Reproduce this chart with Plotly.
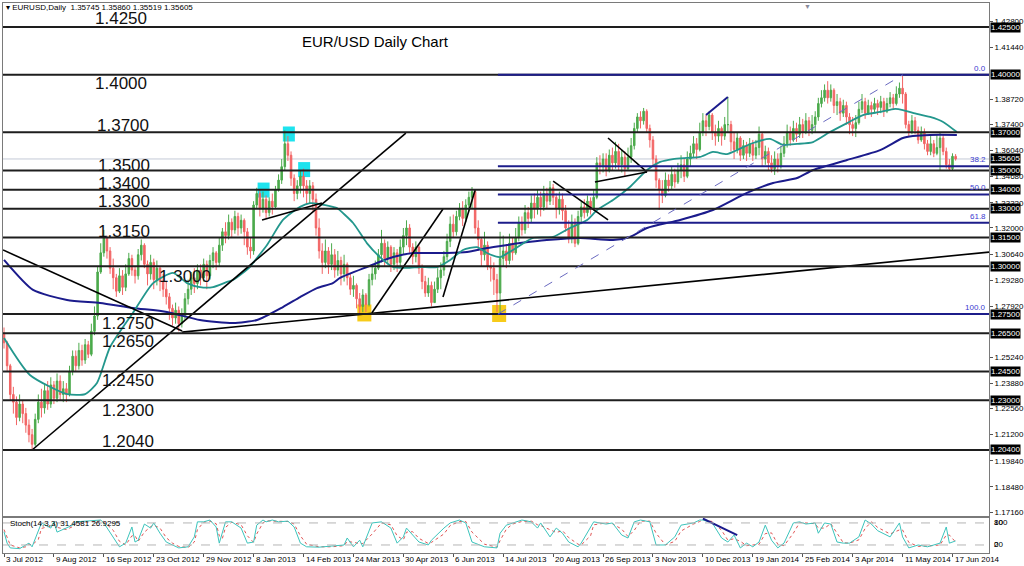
import plotly.graph_objects as go

# ---------------- data (prices in pips: 1.2650 -> 12650) ----------------
PIP = 10000.0
first_open = 12650
closes = [
    12600, 12480, 12330, 12290, 12210, 12280, 12230, 12170, 12120, 12070,
    12200, 12290, 12260, 12350, 12280, 12380, 12310, 12400, 12330, 12360,
    12330, 12450, 12530, 12480, 12560, 12510, 12590, 12540, 12660, 12740,
    12970, 13070, 13150, 13080, 12990, 12940, 12870, 12950, 12890, 12960,
    13040, 12980, 12950, 13060, 13110, 13010, 12960, 13020, 12930, 12990,
    12920, 12880, 12840, 12780, 12730, 12770, 12700, 12740, 12830, 12880,
    12940, 12910, 12980, 12940, 13010, 12950, 13030, 13070, 13020, 13110,
    13180, 13160, 13230, 13190, 13260, 13200, 13240, 13180, 13100, 13080,
    13320, 13380, 13300, 13350, 13280, 13340, 13310, 13400, 13450, 13520,
    13640, 13580, 13460, 13380, 13420, 13470, 13420, 13380, 13420, 13350,
    13200, 13080, 13020, 13080, 13010, 13060, 12980, 13030, 12960, 13010,
    12940, 12880, 12900, 12830, 12790, 12850, 12800, 12930, 12960, 12990,
    13060, 13120, 13040, 13100, 13010, 13070, 13020, 13100, 13160, 13200,
    13100, 13050, 13100, 12990, 12920, 12860, 12900, 12810, 12880, 12940,
    12980, 13050, 13130, 13220, 13180, 13260, 13300, 13250, 13320, 13360,
    13390, 13200, 13140, 13060, 13110, 13000, 12990, 12930, 12860, 13040,
    13080, 13030, 13120, 13070, 13150, 13230, 13190, 13280, 13250, 13330,
    13300, 13360, 13310, 13380, 13340, 13410, 13360, 13300, 13350, 13290,
    13200, 13150, 13230, 13120, 13260, 13310, 13280, 13340, 13300, 13360,
    13540, 13520, 13560, 13500, 13580, 13540, 13600, 13530, 13570, 13510,
    13570, 13630, 13720, 13780, 13760, 13810, 13720, 13660, 13560, 13450,
    13400, 13370, 13450, 13420, 13480, 13440, 13500, 13530, 13470, 13560,
    13590, 13640, 13610, 13700, 13760, 13730, 13790, 13700, 13680, 13720,
    13680, 13740, 13740, 13650, 13610, 13670, 13580, 13630, 13590, 13640,
    13580, 13620, 13690, 13560, 13600, 13540, 13510, 13560, 13520, 13590,
    13640, 13700, 13660, 13720, 13690, 13740, 13700, 13760, 13710, 13740,
    13780, 13850, 13880, 13920, 13880, 13920, 13840, 13860, 13800, 13840,
    13780, 13740, 13720, 13750, 13820, 13860, 13800, 13840, 13820, 13850,
    13830, 13860, 13810, 13850, 13880, 13850, 13900, 13930, 13900, 13740,
    13700, 13760, 13710, 13660, 13700, 13640, 13600, 13640, 13590, 13620,
    13670, 13600, 13530, 13510, 13574.5, 13560.5,
]
highs = [
    12680, 12610, 12490, 12370, 12320, 12330, 12300, 12260, 12200, 12150,
    12230, 12330, 12360, 12390, 12400, 12420, 12400, 12440, 12430, 12400,
    12390, 12480, 12560, 12560, 12600, 12590, 12620, 12610, 12700, 12790,
    13000, 13120, 13190, 13160, 13100, 13040, 12960, 12990, 12980, 13010,
    13070, 13060, 13000, 13090, 13140, 13120, 13030, 13060, 13040, 13030,
    13000, 12960, 12920, 12860, 12800, 12810, 12790, 12780, 12860, 12930,
    12970, 12990, 13010, 13010, 13040, 13030, 13060, 13100, 13080, 13150,
    13200, 13230, 13270, 13250, 13290, 13280, 13270, 13250, 13200, 13150,
    13340, 13410, 13400, 13390, 13370, 13360, 13380, 13420, 13480, 13560,
    13710, 13680, 13600, 13480, 13450, 13500, 13510, 13450, 13450, 13440,
    13380, 13250, 13120, 13140, 13100, 13120, 13090, 13080, 13050, 13060,
    13020, 12960, 12950, 12910, 12860, 12880, 12860, 12960, 13000, 13030,
    13090, 13190, 13140, 13130, 13110, 13100, 13090, 13140, 13200, 13240,
    13220, 13120, 13130, 13110, 13010, 12950, 12940, 12920, 12920, 12990,
    13020, 13080, 13170, 13260, 13270, 13290, 13330, 13340, 13350, 13390,
    13414, 13400, 13240, 13150, 13180, 13130, 13050, 13020, 12960, 13180,
    13160, 13110, 13170, 13150, 13200, 13260, 13260, 13320, 13310, 13370,
    13380, 13400, 13390, 13420, 13410, 13445, 13430, 13380, 13390, 13380,
    13320, 13240, 13270, 13250, 13290, 13340, 13350, 13370, 13360, 13400,
    13570, 13580, 13590, 13590, 13610, 13620, 13650, 13640, 13610, 13600,
    13620, 13670, 13750, 13800, 13810, 13827, 13820, 13740, 13680, 13580,
    13460, 13450, 13490, 13480, 13520, 13510, 13540, 13580, 13560, 13600,
    13630, 13680, 13670, 13750, 13800, 13790, 13810, 13800, 13740, 13760,
    13730, 13780, 13885, 13760, 13700, 13700, 13680, 13660, 13650, 13670,
    13660, 13660, 13730, 13700, 13630, 13620, 13580, 13600, 13590, 13630,
    13680, 13740, 13730, 13760, 13750, 13780, 13770, 13800, 13780, 13790,
    13810, 13880, 13920, 13950, 13967, 13950, 13930, 13900, 13880, 13870,
    13860, 13800, 13780, 13790, 13860, 13900, 13880, 13870, 13860, 13880,
    13870, 13890, 13880, 13880, 13910, 13900, 13940, 13960, 13994, 13910,
    13760, 13790, 13780, 13730, 13730, 13720, 13660, 13680, 13660, 13690,
    13700, 13690, 13620, 13560, 13590, 13586,
]
lows = [
    12570, 12450, 12300, 12230, 12170, 12190, 12180, 12130, 12080, 12040,
    12060, 12180, 12210, 12230, 12250, 12260, 12280, 12290, 12300, 12290,
    12290, 12320, 12430, 12450, 12460, 12480, 12490, 12520, 12530, 12640,
    12720, 12960, 13050, 13040, 12960, 12880, 12840, 12860, 12850, 12870,
    12950, 12950, 12910, 12930, 13030, 12990, 12900, 12930, 12880, 12900,
    12870, 12840, 12800, 12720, 12690, 12700, 12660, 12680, 12720, 12800,
    12850, 12860, 12880, 12900, 12920, 12880, 12930, 12990, 12980, 13000,
    13080, 13120, 13140, 13150, 13170, 13160, 13170, 13110, 13060, 13040,
    13060, 13300, 13260, 13280, 13250, 13260, 13270, 13300, 13390, 13430,
    13500, 13550, 13420, 13340, 13350, 13380, 13360, 13320, 13330, 13290,
    13160, 13040, 12960, 12990, 12960, 12980, 12940, 12950, 12900, 12920,
    12900, 12850, 12840, 12780, 12750, 12760, 12760, 12790, 12900, 12930,
    12980, 13020, 13000, 13010, 12970, 12980, 12970, 13000, 13060, 13110,
    13070, 13010, 13020, 12960, 12880, 12840, 12840, 12790, 12810, 12860,
    12880, 12950, 13030, 13100, 13150, 13160, 13240, 13210, 13230, 13290,
    13300, 13170, 13080, 13000, 13030, 12980, 12920, 12850, 12760, 12755,
    13000, 12990, 13010, 13030, 13060, 13130, 13160, 13170, 13200, 13230,
    13250, 13270, 13260, 13290, 13300, 13320, 13320, 13250, 13270, 13240,
    13180, 13120, 13120, 13100, 13110, 13220, 13250, 13260, 13270, 13290,
    13350, 13480, 13490, 13470, 13490, 13500, 13510, 13500, 13490, 13470,
    13500, 13540, 13610, 13700, 13720, 13740, 13700, 13620, 13520, 13410,
    13294, 13330, 13360, 13390, 13400, 13410, 13430, 13460, 13440, 13460,
    13520, 13570, 13560, 13600, 13680, 13680, 13710, 13660, 13630, 13650,
    13630, 13660, 13700, 13600, 13560, 13590, 13550, 13560, 13550, 13570,
    13550, 13560, 13580, 13520, 13530, 13500, 13490, 13477, 13490, 13510,
    13570, 13620, 13630, 13650, 13650, 13670, 13670, 13690, 13680, 13690,
    13700, 13760, 13830, 13860, 13850, 13860, 13800, 13790, 13760, 13780,
    13740, 13690, 13680, 13675, 13740, 13800, 13770, 13790, 13780, 13800,
    13790, 13800, 13780, 13800, 13830, 13820, 13840, 13880, 13850, 13720,
    13680, 13690, 13690, 13640, 13650, 13610, 13580, 13580, 13570, 13580,
    13500, 13580, 13510, 13500, 13500, 13551.9,
]
last_ohlc = [1.35745, 1.35860, 1.35519, 1.35605]

# moving averages (bar position, price in pips)
ma_fast_bar = [0, 8.3, 20.2, 26, 29.8, 34, 41.3, 47.8, 54.2, 58.7, 62.8, 67, 71.5, 73.4,
               78.8, 79.8, 84.3, 89.4, 94.9, 98.1, 101.3, 105.4, 106.7, 111.9, 116.3,
               120.5, 124.7, 129.2, 133.3, 138.8, 143, 147.1, 151.6, 154.8, 159, 163.1,
               169.6, 176, 181.4, 186.9, 190.1, 195.2, 200.6, 206.1, 210.3, 214.4, 218.9,
               223.1, 227.2, 231.7, 234.9, 240.1, 245.5, 249.7, 254.2, 259.3, 264.7,
               270.2, 275.3, 280.8, 285.6, 288.1, 291.3, 296.8, 301, 305.4]
ma_fast_val = [12625, 12432, 12332, 12332, 12390, 12578, 12756, 12912, 12965, 12912, 12891,
               12891, 12918, 12928, 12996, 13017, 13111, 13242, 13310, 13330, 13325, 13310,
               13304, 13226, 13121, 13048, 12996, 12991, 12996, 12996, 13033, 13085, 13100,
               13069, 13048, 13085, 13148, 13153, 13200, 13242, 13294, 13346, 13414, 13503,
               13545, 13560, 13566, 13571, 13597, 13586, 13607, 13644, 13665, 13634, 13639,
               13649, 13701, 13748, 13790, 13806, 13822, 13816, 13801, 13780, 13754, 13701]
ma_slow_bar = [0, 9.3, 20.2, 30.8, 41.3, 52.2, 62.8, 73.4, 81.1, 89.4, 94.9, 100.3, 105.4,
               107.7, 116.3, 124.7, 131.1, 137.5, 142, 148.4, 154.8, 161.2, 165.4, 174,
               184.6, 195.2, 200.6, 206.1, 216.7, 227.2, 238.1, 246.5, 254.2, 259.3, 270.2,
               280.8, 288.1, 291.3, 296.8, 305.4]
ma_slow_val = [13033, 12876, 12824, 12808, 12782, 12761, 12719, 12703, 12719, 12787, 12839,
               12886, 12912, 12939, 12996, 13048, 13069, 13069, 13069, 13074, 13095, 13111,
               13121, 13137, 13148, 13137, 13153, 13200, 13242, 13294, 13383, 13435, 13461,
               13503, 13555, 13607, 13670, 13680, 13686, 13686]

# stochastic (14,3,3)
stoch_bar = [0, 1, 2, 5, 7, 8, 9, 11, 12, 15, 16, 17, 20, 22, 23, 28, 31, 32, 35, 37, 39, 41,
             42, 43, 45, 47, 48, 50, 52, 54, 56, 59, 61, 62, 64, 66, 68, 69, 70, 71, 73, 76,
             78, 80, 81, 83, 84, 86, 88, 91, 93, 95, 97, 101, 105, 109, 110, 112, 114, 115,
             118, 121, 124, 126, 128, 129, 131, 133, 136, 137, 141, 143, 146, 148, 150, 154,
             158, 159, 161, 163, 166, 169, 171, 172, 175, 177, 179, 181, 184, 185, 188, 189,
             193, 195, 198, 200, 202, 204, 207, 209, 212, 215, 217, 221, 223, 224, 227, 230,
             232, 234, 236, 238, 240, 242, 244, 246, 248, 250, 253, 255, 257, 260, 261, 263,
             265, 267, 269, 271, 274, 276, 278, 280, 284, 287, 288, 290, 293, 296, 300, 302,
             303, 305]
stoch_k = [56, 25, 12, 10, 20, 25, 15, 61, 80, 66, 83, 55, 66, 74, 83, 85, 88, 80, 42, 15, 25,
           69, 28, 33, 77, 66, 80, 52, 28, 20, 12, 15, 42, 83, 83, 88, 69, 25, 52, 83, 83, 66,
           25, 28, 74, 88, 83, 88, 83, 85, 69, 25, 15, 14, 17, 20, 39, 15, 33, 15, 80, 83, 66,
           25, 42, 66, 47, 28, 20, 33, 66, 80, 88, 80, 28, 15, 12, 52, 74, 80, 88, 83, 66, 80,
           42, 66, 52, 28, 15, 25, 66, 83, 77, 80, 47, 39, 83, 88, 83, 20, 20, 42, 74, 80, 88,
           88, 80, 39, 28, 47, 12, 25, 15, 28, 74, 33, 12, 25, 80, 83, 77, 80, 52, 80, 77, 28,
           25, 25, 42, 88, 77, 59, 42, 80, 42, 12, 20, 15, 25, 69, 25, 31]
stoch_d = [62, 40, 20, 12, 15, 22, 20, 35, 65, 72, 76, 68, 62, 70, 78, 84, 86, 84, 60, 30,
           20, 45, 45, 30, 55, 70, 74, 66, 40, 25, 16, 13, 28, 62, 82, 85, 78, 45, 38, 68,
           82, 75, 45, 27, 50, 80, 86, 85, 85, 84, 77, 45, 22, 15, 15, 18, 30, 26, 24, 24,
           50, 80, 75, 45, 34, 55, 56, 38, 24, 27, 50, 73, 84, 84, 55, 22, 14, 32, 63, 77,
           84, 85, 75, 73, 61, 54, 59, 40, 22, 20, 45, 75, 80, 78, 63, 43, 60, 85, 85, 52,
           20, 30, 58, 77, 84, 88, 84, 60, 33, 37, 30, 18, 20, 22, 51, 53, 22, 18, 52, 81,
           80, 78, 66, 66, 78, 52, 26, 25, 34, 65, 83, 68, 50, 61, 61, 27, 16, 17, 20, 47,
           47, 28]
stoch_last = [31.4581, 26.9295]
stoch_levels = [20, 80]

date_bar = [0, 16, 32, 48, 64, 80, 96, 112, 128, 144, 160, 176, 192, 208, 224, 240, 256, 272, 288, 304]
date_labels = ["3 Jul 2012", "9 Aug 2012", "16 Sep 2012", "23 Oct 2012", "29 Nov 2012",
               "8 Jan 2013", "14 Feb 2013", "24 Mar 2013", "30 Apr 2013", "6 Jun 2013",
               "14 Jul 2013", "20 Aug 2013", "26 Sep 2013", "3 Nov 2013", "10 Dec 2013",
               "19 Jan 2014", "25 Feb 2014", "3 Apr 2014", "11 May 2014", "17 Jun 2014"]

levels = [1.4250, 1.4000, 1.3700, 1.3500, 1.3400, 1.3300, 1.3150, 1.3000,
          1.2750, 1.2650, 1.2450, 1.2300, 1.2040]
current_price = 1.35605
axis_ticks = [1.4280, 1.4144, 1.3872, 1.3740, 1.3604, 1.3468, 1.3332, 1.3200, 1.3064,
              1.2928, 1.2792, 1.2524, 1.2388, 1.2256, 1.2120, 1.1984, 1.1848, 1.1716]

fib_low, fib_high = 1.2750, 1.4000
fib_low_bar, fib_high_bar = 158.3, 288.1
fib_pcts = [0.0, 38.2, 50.0, 61.8, 100.0]

# black trendlines (bar, pips) -> (bar, pips)
trend_bar0 = [-0.3, 57.1, 9.0, 82.7, 117.9, 140.7, 176.0, 193.6, 189.4]
trend_p0 = [13085, 12656, 12040, 13242, 12756, 12839, 13445, 13670, 13440]
trend_bar1 = [57.1, 315.7, 128.8, 101.9, 140.7, 151.0, 193.6, 206.1, 206.1]
trend_p1 = [12662, 13074, 13696, 13330, 13299, 13398, 13242, 13492, 13492]
blue_trend_bar = [225.0, 232.0]
blue_trend_p = [13790, 13884]
stoch_trend_bar = [224, 235]
stoch_trend_val = [92, 47]

cyan_bar = [83.2, 91.3, 96.2]
cyan_p = [13398, 13691, 13505]
gold_bar = [115.5, 158.7]
gold_p = [12756, 12753]

# ---------------- style / layout ----------------
W, H = 1024, 566
X_RANGE = [-0.32, 315.7]
Y_RANGE = [1.16951, 1.43754]
S_RANGE = [-1.9, 93.5]
PX_PER_BAR = 3.12
PX_PER_PRICE = 1914.0
GREEN = "#4caa4c"
RED = "#f26464"
TEAL = "#23978d"
NAVY = "#1b1b8c"
FIBC = "#1c1c8a"
FONT = "Liberation Sans"


def px(x):
    return x / W


def py(y):
    return 1 - y / H


label_style = {  # level -> (left px, vertical shift px)
    1.4250: (93, 8), 1.4000: (93, -10), 1.3700: (95, 6), 1.3500: (96, 4),
    1.3400: (96, 5), 1.3300: (96, 6), 1.3150: (96, 5), 1.3000: (157, -11),
    1.2750: (100, -10), 1.2650: (100, -9), 1.2450: (100, -10), 1.2300: (100, -11),
    1.2040: (100, 7),
}

fig = go.Figure()
shapes = []
ann = []

# highlight squares (behind candles)
for b, p in zip(cyan_bar, cyan_p):
    shapes.append(dict(type="rect", xref="x", yref="y", layer="below",
                       x0=b - 6 / PX_PER_BAR, x1=b + 6 / PX_PER_BAR,
                       y0=p / PIP - 7.5 / PX_PER_PRICE, y1=p / PIP + 7.5 / PX_PER_PRICE,
                       fillcolor="#1ee3ee", line=dict(width=0)))
for b, p in zip(gold_bar, gold_p):
    shapes.append(dict(type="rect", xref="x", yref="y", layer="below",
                       x0=b - 7 / PX_PER_BAR, x1=b + 7 / PX_PER_BAR,
                       y0=p / PIP - 8.5 / PX_PER_PRICE, y1=p / PIP + 8.5 / PX_PER_PRICE,
                       fillcolor="#f7cb1a", line=dict(width=0)))

# current price line
shapes.append(dict(type="line", xref="x domain", yref="y", x0=0, x1=1,
                   y0=current_price, y1=current_price, layer="below",
                   line=dict(color="#c3c9d6", width=1)))

# horizontal levels
for lv in levels:
    shapes.append(dict(type="line", xref="x domain", yref="y", x0=0, x1=1,
                       y0=lv, y1=lv, line=dict(color="#1e1e1e", width=2)))

# fibonacci levels
for pct in fib_pcts:
    lv = fib_high - pct / 100.0 * (fib_high - fib_low)
    shapes.append(dict(type="line", xref="x", yref="y", x0=fib_low_bar, x1=X_RANGE[1],
                       y0=lv, y1=lv, line=dict(color=FIBC, width=2)))
    ann.append(dict(x=px(988), y=lv, xref="paper", yref="y", text=f"{pct:.1f}",
                    showarrow=False, xanchor="right", yanchor="bottom", yshift=0,
                    font=dict(family=FONT, size=8, color="#3a3ad0")))
shapes.append(dict(type="line", xref="x", yref="y", x0=fib_low_bar, x1=fib_high_bar,
                   y0=fib_low, y1=fib_high, line=dict(color="#6a6ac0", width=1, dash="dash")))

# stochastic level lines
for lv in stoch_levels:
    shapes.append(dict(type="line", xref="x2 domain", yref="y2", x0=0, x1=1, y0=lv, y1=lv,
                       line=dict(color="#b5b5b5", width=1, dash="dash")))

# candles
bars = list(range(len(closes)))
opens = [first_open] + closes[:-1]
fig.add_trace(go.Candlestick(
    x=bars, open=[v / PIP for v in opens], high=[v / PIP for v in highs],
    low=[v / PIP for v in lows], close=[v / PIP for v in closes],
    increasing=dict(line=dict(color=GREEN, width=1), fillcolor=GREEN),
    decreasing=dict(line=dict(color=RED, width=1), fillcolor=RED),
    whiskerwidth=0, hoverinfo="skip", showlegend=False, xaxis="x", yaxis="y"))

# moving averages
fig.add_trace(go.Scatter(x=ma_slow_bar, y=[v / PIP for v in ma_slow_val], mode="lines",
                         line=dict(color=NAVY, width=2, shape="spline", smoothing=0.6),
                         hoverinfo="skip", showlegend=False))
fig.add_trace(go.Scatter(x=ma_fast_bar, y=[v / PIP for v in ma_fast_val], mode="lines",
                         line=dict(color=TEAL, width=1.8, shape="spline", smoothing=0.6),
                         hoverinfo="skip", showlegend=False))

# trendlines
tx, ty = [], []
for b0, p0, b1, p1 in zip(trend_bar0, trend_p0, trend_bar1, trend_p1):
    tx += [b0, b1, None]
    ty += [p0 / PIP, p1 / PIP, None]
fig.add_trace(go.Scatter(x=tx, y=ty, mode="lines", line=dict(color="#000000", width=1.6),
                         hoverinfo="skip", showlegend=False))
fig.add_trace(go.Scatter(x=blue_trend_bar, y=[v / PIP for v in blue_trend_p], mode="lines",
                         line=dict(color=NAVY, width=2), hoverinfo="skip", showlegend=False))

# stochastic
fig.add_trace(go.Scatter(x=stoch_bar, y=stoch_d, mode="lines", xaxis="x2", yaxis="y2",
                         line=dict(color="#e05555", width=1, dash="dot"),
                         hoverinfo="skip", showlegend=False))
fig.add_trace(go.Scatter(x=stoch_bar, y=stoch_k, mode="lines", xaxis="x2", yaxis="y2",
                         line=dict(color="#3cc4bc", width=1),
                         hoverinfo="skip", showlegend=False))
fig.add_trace(go.Scatter(x=stoch_trend_bar, y=stoch_trend_val, mode="lines", xaxis="x2",
                         yaxis="y2", line=dict(color=NAVY, width=2),
                         hoverinfo="skip", showlegend=False))

# big level labels
for lv in levels:
    lx, sh = label_style[lv]
    ann.append(dict(x=px(lx), y=lv, xref="paper", yref="y", text=f"{lv:.4f}",
                    showarrow=False, xanchor="left", yanchor="middle", yshift=sh + 1,
                    font=dict(family=FONT, size=17, color="#111111")))

# right-axis highlighted labels
for lv in levels + [current_price]:
    ann.append(dict(x=px(990), y=lv, xref="paper", yref="y", text=f"{lv:.5f}",
                    showarrow=False, xanchor="left", yanchor="middle",
                    bgcolor="#000000", borderpad=0,
                    font=dict(family=FONT, size=8, color="#ffffff")))

# title and header
ann.append(dict(x=px(375), y=py(42), xref="paper", yref="paper", text="EUR/USD Daily Chart",
                showarrow=False, xanchor="center", yanchor="middle",
                font=dict(family=FONT, size=15, color="#000000")))
ann.append(dict(x=px(4), y=py(8), xref="paper", yref="paper",
                text="▾ EURUSD,Daily  " + " ".join(f"{v:.5f}" for v in last_ohlc),
                showarrow=False, xanchor="left", yanchor="middle",
                font=dict(family=FONT, size=8, color="#000000")))
ann.append(dict(x=px(807), y=py(7), xref="paper", yref="paper", text="▼",
                showarrow=False, xanchor="center", yanchor="middle",
                font=dict(family=FONT, size=7, color="#8a8a9a")))
ann.append(dict(x=px(8), y=py(523), xref="paper", yref="paper",
                text=f"Stoch(14,3,3) {stoch_last[0]:.4f} {stoch_last[1]:.4f}",
                showarrow=False, xanchor="left", yanchor="middle",
                font=dict(family=FONT, size=8, color="#000000")))

# stochastic scale labels
for val, txt in [(80, "100"), (80, "80"), (20, "20"), (20, "0")]:
    ann.append(dict(x=px(992), y=val, xref="paper", yref="y2", text=txt,
                    showarrow=False, xanchor="left", yanchor="middle",
                    font=dict(family=FONT, size=8, color="#000000")))

# date labels
for b, t in zip(date_bar, date_labels):
    ann.append(dict(x=b, y=py(559), xref="x2", yref="paper", text=t, showarrow=False,
                    xanchor="left", yanchor="middle",
                    font=dict(family=FONT, size=8, color="#000000")))

axis_common = dict(showgrid=False, zeroline=False, showline=True, mirror=True,
                   linecolor="#7a7a7a", linewidth=1)

fig.update_layout(
    width=W, height=H, autosize=False,
    margin=dict(l=0, r=0, t=0, b=0),
    paper_bgcolor="#ffffff", plot_bgcolor="#ffffff",
    showlegend=False, shapes=shapes, annotations=ann,
    xaxis=dict(domain=[px(3), px(989)], range=X_RANGE, anchor="y",
               showticklabels=False, ticks="", rangeslider=dict(visible=False),
               **axis_common),
    yaxis=dict(domain=[py(516), py(3)], range=Y_RANGE, side="right", anchor="x",
               tickvals=axis_ticks, ticktext=[f"{v:.5f}" for v in axis_ticks],
               ticks="outside", ticklen=3, tickcolor="#555555",
               tickfont=dict(family=FONT, size=8, color="#000000"), **axis_common),
    xaxis2=dict(domain=[px(3), px(989)], range=X_RANGE, anchor="y2",
                tickvals=date_bar, ticks="outside", ticklen=3, tickcolor="#555555",
                showticklabels=False, **axis_common),
    yaxis2=dict(domain=[py(553), py(518)], range=S_RANGE, side="right", anchor="x2",
                showticklabels=False, ticks="", **axis_common),
)

fig.write_html("out.html", config={"displayModeBar": False},
               post_script="document.body.style.margin='0';"
                           "document.body.style.overflow='hidden';")
